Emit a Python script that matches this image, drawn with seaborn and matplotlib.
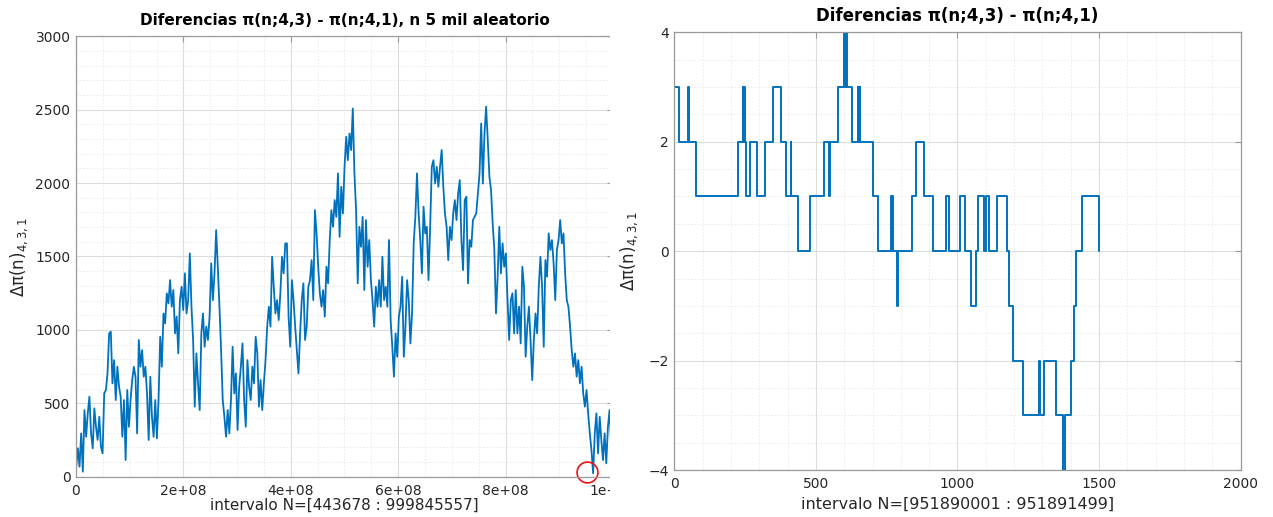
import numpy as np
import pandas as pd
import matplotlib
matplotlib.use("Agg")
import matplotlib.pyplot as plt
from matplotlib.patches import Rectangle
from matplotlib.ticker import MultipleLocator, FuncFormatter
import seaborn as sns

# Left panel: pi(n;4,3) - pi(n;4,1) over 5000 random n
N_START = 443678
N_END = 999845557
diff_random = [
    68, 193, 68, 295, 34, 454, 272, 431, 545, 295, 193, 465, 340, 250, 408, 204, 159, 567, 590, 704,
    976, 988, 636, 794, 522, 749, 613, 545, 272, 522, 113, 590, 340, 522, 658, 749, 681, 295, 931, 749,
    862, 681, 749, 567, 250, 681, 408, 272, 522, 261, 522, 953, 749, 1112, 1044, 1249, 1180, 1339, 1158, 1271,
    976, 1090, 840, 1203, 1294, 1135, 1385, 1112, 1203, 1521, 1158, 931, 477, 840, 636, 454, 976, 1112, 885, 1022,
    931, 1090, 1453,
    1203, 1385, 1680, 1430, 1158, 862, 522, 408, 272, 454, 295, 522, 885, 567, 704, 318, 613, 749, 908, 522,
    340, 794, 613, 522, 749, 636, 953, 840, 477, 658, 454, 636, 794, 1022, 1158, 1022, 1498, 1294, 1112, 1203,
    1067, 1249, 1498, 1385, 1589, 1589, 1090, 885, 1339, 1203, 1022, 862, 704, 976, 1203, 1317, 931, 1022, 1294, 1339,
    1475, 1203, 1816, 1657, 1430, 1249, 1158, 1271, 1090, 1430, 1317, 1612, 1816, 1702, 1884, 1770, 2066, 1634, 1975, 1793,
    2111, 2315,
    2156, 2338, 2225, 2508, 2066, 1816, 1317, 1702, 1566, 1770, 1271, 1748, 1430, 1612, 1339, 1203, 1022, 1294, 1158, 1339,
    1158, 1498, 1203, 1294, 1158, 1612, 1067, 885, 681, 976, 817, 1090, 1158, 1362, 817, 1022, 1339, 1203, 908, 1112,
    1589, 1770, 2066, 1793, 1612, 1385, 1839, 1657, 1702, 1339, 1702, 2111, 2156, 1997, 2111, 1975, 2111, 2225, 1975, 1793,
    1702, 1475, 1702, 1612, 1793, 1884, 1748, 1929, 2020, 1612, 1407, 1884, 1907, 1317, 1612, 1566, 1748, 1770, 1793, 1929,
    2066, 2406,
    1997, 2338, 2520, 2293, 2043, 1952, 1725, 1544, 1112, 1362, 1702, 1385, 1589, 1430, 1521, 1203, 931, 1203, 1249, 976,
    1271, 976, 1158, 908, 1430, 1294, 817, 1022, 1158, 931, 658, 931, 1112, 976, 1294, 1498, 1294, 885, 1475, 1362,
    1657, 1544, 1612, 1453, 1203, 1544, 1612, 1748, 1589, 1657, 1385, 1203, 1158, 1022, 862, 749, 840, 681, 794, 636,
    749, 567, 477, 590, 431, 295, 181, 23, 295, 431, 159, 408, 250, 113, 295, 91, 340, 454, 204, 295,
]
highlight_n = [951890001]
highlight_val = [30]

# Right panel: zoom on N = [951890001 : 951891499], step function (start offset, value)
step_start = [
    0, 18, 48, 52, 78, 226, 242, 244, 247, 249, 254, 267, 292, 320, 348, 377, 395, 412, 413, 438,
    478, 530, 546, 550, 579, 601, 603, 604, 606, 607, 610, 628, 647, 649, 655, 657, 703, 719, 765, 767,
    769, 771, 788, 790, 840, 852, 881, 915, 958, 969, 1010, 1028, 1048, 1066, 1071, 1095, 1101, 1112, 1140, 1175,
    1181, 1195, 1232, 1287, 1291, 1307, 1349, 1373, 1380, 1402, 1411, 1420, 1440, 1499, 1500,
]
step_value = [
    3, 2, 3, 2, 1, 2, 3, 2, 3, 2, 1, 2, 1, 2, 3, 2, 1, 2, 1, 0,
    1, 2, 1, 2, 3, 4, 3, 4, 3, 4, 3, 2, 3, 2, 3, 2, 1, 0, 1, 0,
    1, 0, -1, 0, 1, 2, 1, 0, 1, 0, 1, 0, -1, 0, 1, 0, 1, 0, 1, 0,
    -1, -2, -3, -2, -3, -2, -3, -4, -3, -2, -1, 0, 1, 0, 0,
]

LINE = "#0072BD"
TEXT = "#262626"
SPINE = "#9a9a9a"

sns.set_theme(style="white")
plt.rcParams["font.family"] = ["DejaVu Sans"]

left_df = pd.DataFrame({
    "n": np.linspace(N_START, N_END, len(diff_random)),
    "diff": diff_random,
})
right_df = pd.DataFrame({"k": step_start, "diff": step_value})

fig = plt.figure(figsize=(12.73, 5.17), dpi=100)
ax1 = fig.add_axes([0.0597, 0.078, 0.4218, 0.8518])
ax2 = fig.add_axes([0.5297, 0.0909, 0.4449, 0.8466])
ax2.set_zorder(10)


def style_axes(ax):
    ax.minorticks_on()
    ax.grid(True, which="major", color="#dcdcdc", linewidth=0.8)
    ax.grid(True, which="minor", color="#e8e8e8", linewidth=0.6, linestyle=(0, (2, 2)))
    ax.tick_params(which="major", direction="in", length=4, width=0.8, color=SPINE,
                   top=True, right=True, labelsize=10, labelcolor=TEXT)
    ax.tick_params(axis="x", which="major", pad=5)
    ax.tick_params(axis="y", which="major", pad=4)
    ax.tick_params(which="minor", length=0)
    for sp in ax.spines.values():
        sp.set_color(SPINE)
        sp.set_linewidth(0.9)
    ax.set_axisbelow(True)


sns.lineplot(data=left_df, x="n", y="diff", ax=ax1, color=LINE, linewidth=1.3)
ax1.plot(highlight_n, highlight_val, "o", markersize=15, markerfacecolor="none",
         markeredgecolor="#ee1111", markeredgewidth=1.2, clip_on=False)
ax1.set_xlim(0, 1e9)
ax1.set_ylim(0, 3000)
ax1.xaxis.set_major_locator(MultipleLocator(2e8))
ax1.xaxis.set_minor_locator(MultipleLocator(4e7))
ax1.yaxis.set_major_locator(MultipleLocator(500))
ax1.yaxis.set_minor_locator(MultipleLocator(100))
ax1.xaxis.set_major_formatter(FuncFormatter(lambda v, p: "%g" % v))
style_axes(ax1)
ax1.set_title("Diferencias π(n;4,3) - π(n;4,1), n 5 mil aleatorio",
              fontsize=11, fontweight="bold", color="black", pad=8)
ax1.set_xlabel("intervalo N=[443678 : 999845557]", fontsize=11, color=TEXT, labelpad=0)
ax1.set_ylabel(r"$\mathregular{\Delta\pi(n)_{4,3,1}}$", fontsize=12, color=TEXT, labelpad=4)

sns.lineplot(data=right_df, x="k", y="diff", ax=ax2, color=LINE, linewidth=1.4,
             drawstyle="steps-post")
ax2.set_xlim(0, 2000)
ax2.set_ylim(-4, 4)
ax2.xaxis.set_major_locator(MultipleLocator(500))
ax2.xaxis.set_minor_locator(MultipleLocator(100))
ax2.yaxis.set_major_locator(MultipleLocator(2))
ax2.yaxis.set_minor_locator(MultipleLocator(0.4))
style_axes(ax2)
ax2.set_title("Diferencias π(n;4,3) - π(n;4,1)",
              fontsize=12, fontweight="bold", color="black", pad=8)
ax2.set_xlabel("intervalo N=[951890001 : 951891499]", fontsize=11.5, color=TEXT, labelpad=4)
ax2.set_ylabel(r"$\mathregular{\Delta\pi(n)_{4,3,1}}$", fontsize=12, color=TEXT, labelpad=6)

# the left image is cut off just past its last data point
fig.patches.append(Rectangle((609.5 / 1273, 0), 30 / 1273, 1, transform=fig.transFigure,
                             facecolor="white", edgecolor="none", zorder=5))

fig.savefig("out.png", dpi=100)
